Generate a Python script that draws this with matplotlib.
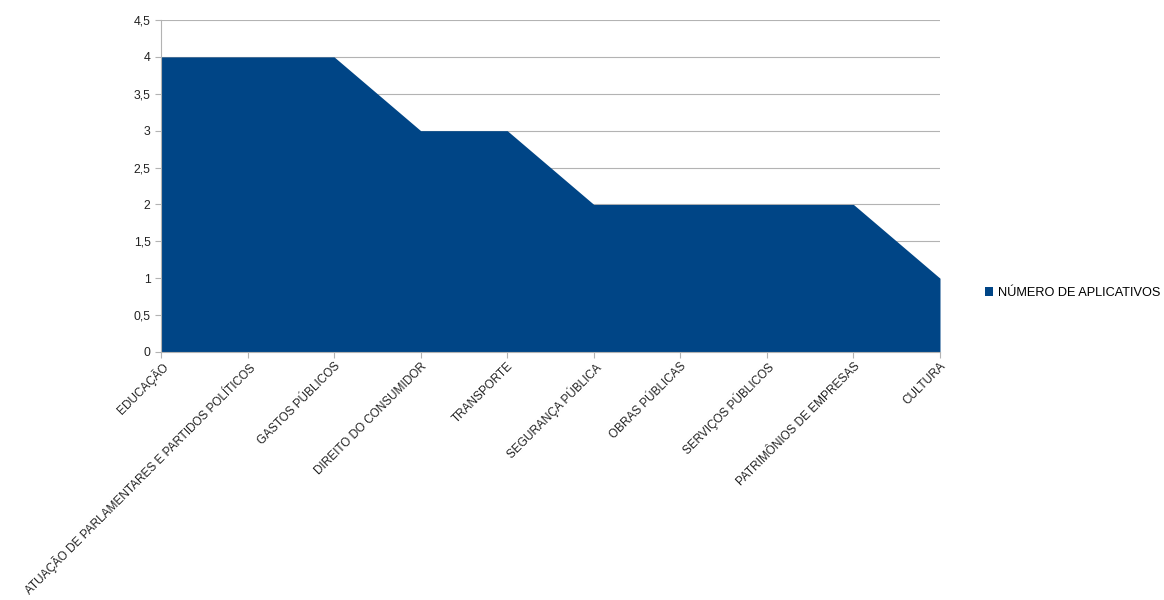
import matplotlib.pyplot as plt
from matplotlib.ticker import FuncFormatter

plt.rcParams['font.family'] = ['Liberation Sans', 'DejaVu Sans']

categorias = ['EDUCAÇÃO', 'ATUAÇÃO DE PARLAMENTARES E PARTIDOS POLÍTICOS', 'GASTOS PÚBLICOS',
              'DIREITO DO CONSUMIDOR', 'TRANSPORTE', 'SEGURANÇA PÚBLICA', 'OBRAS PÚBLICAS',
              'SERVIÇOS PÚBLICOS', 'PATRIMÔNIOS DE EMPRESAS', 'CULTURA']
num_aplicativos = [4, 4, 4, 3, 3, 2, 2, 2, 2, 1]
yticks = [0, 0.5, 1, 1.5, 2, 2.5, 3, 3.5, 4, 4.5]

fig = plt.figure(figsize=(11.64, 6.0), dpi=100)
ax = fig.add_axes([161 / 1164, 1 - 352 / 600, (940 - 161) / 1164, (352 - 20) / 600])

x = list(range(len(categorias)))
ax.fill_between(x, 0, num_aplicativos, color='#004586', linewidth=0, zorder=2,
                label='NÚMERO DE APLICATIVOS')

ax.set_xlim(0, len(categorias) - 1)
ax.set_ylim(0, 4.5)
ax.set_yticks(yticks)
ax.yaxis.set_major_formatter(FuncFormatter(lambda v, p: ('%g' % v).replace('.', ',')))
ax.set_xticks(x)
ax.set_xticklabels(categorias, rotation=45, ha='right', rotation_mode='anchor')
ax.grid(axis='y', color='#b3b3b3', linewidth=0.8, zorder=1)
for s in ['top', 'right']:
    ax.spines[s].set_visible(False)
for s in ['left', 'bottom']:
    ax.spines[s].set_color('#b3b3b3')
ax.tick_params(axis='both', colors='#b3b3b3', labelcolor='#222222', labelsize=8.8, length=4, width=0.8)
ax.tick_params(axis='x', pad=2, labelsize=8.5)

ax.legend(loc='center left', bbox_to_anchor=(985 / 1164, 1 - 293 / 600), bbox_transform=fig.transFigure,
          frameon=False, fontsize=9.2, handlelength=0.6, handleheight=0.6, handletextpad=0.4,
          borderaxespad=0, borderpad=0)

fig.savefig('out.png', dpi=100)
